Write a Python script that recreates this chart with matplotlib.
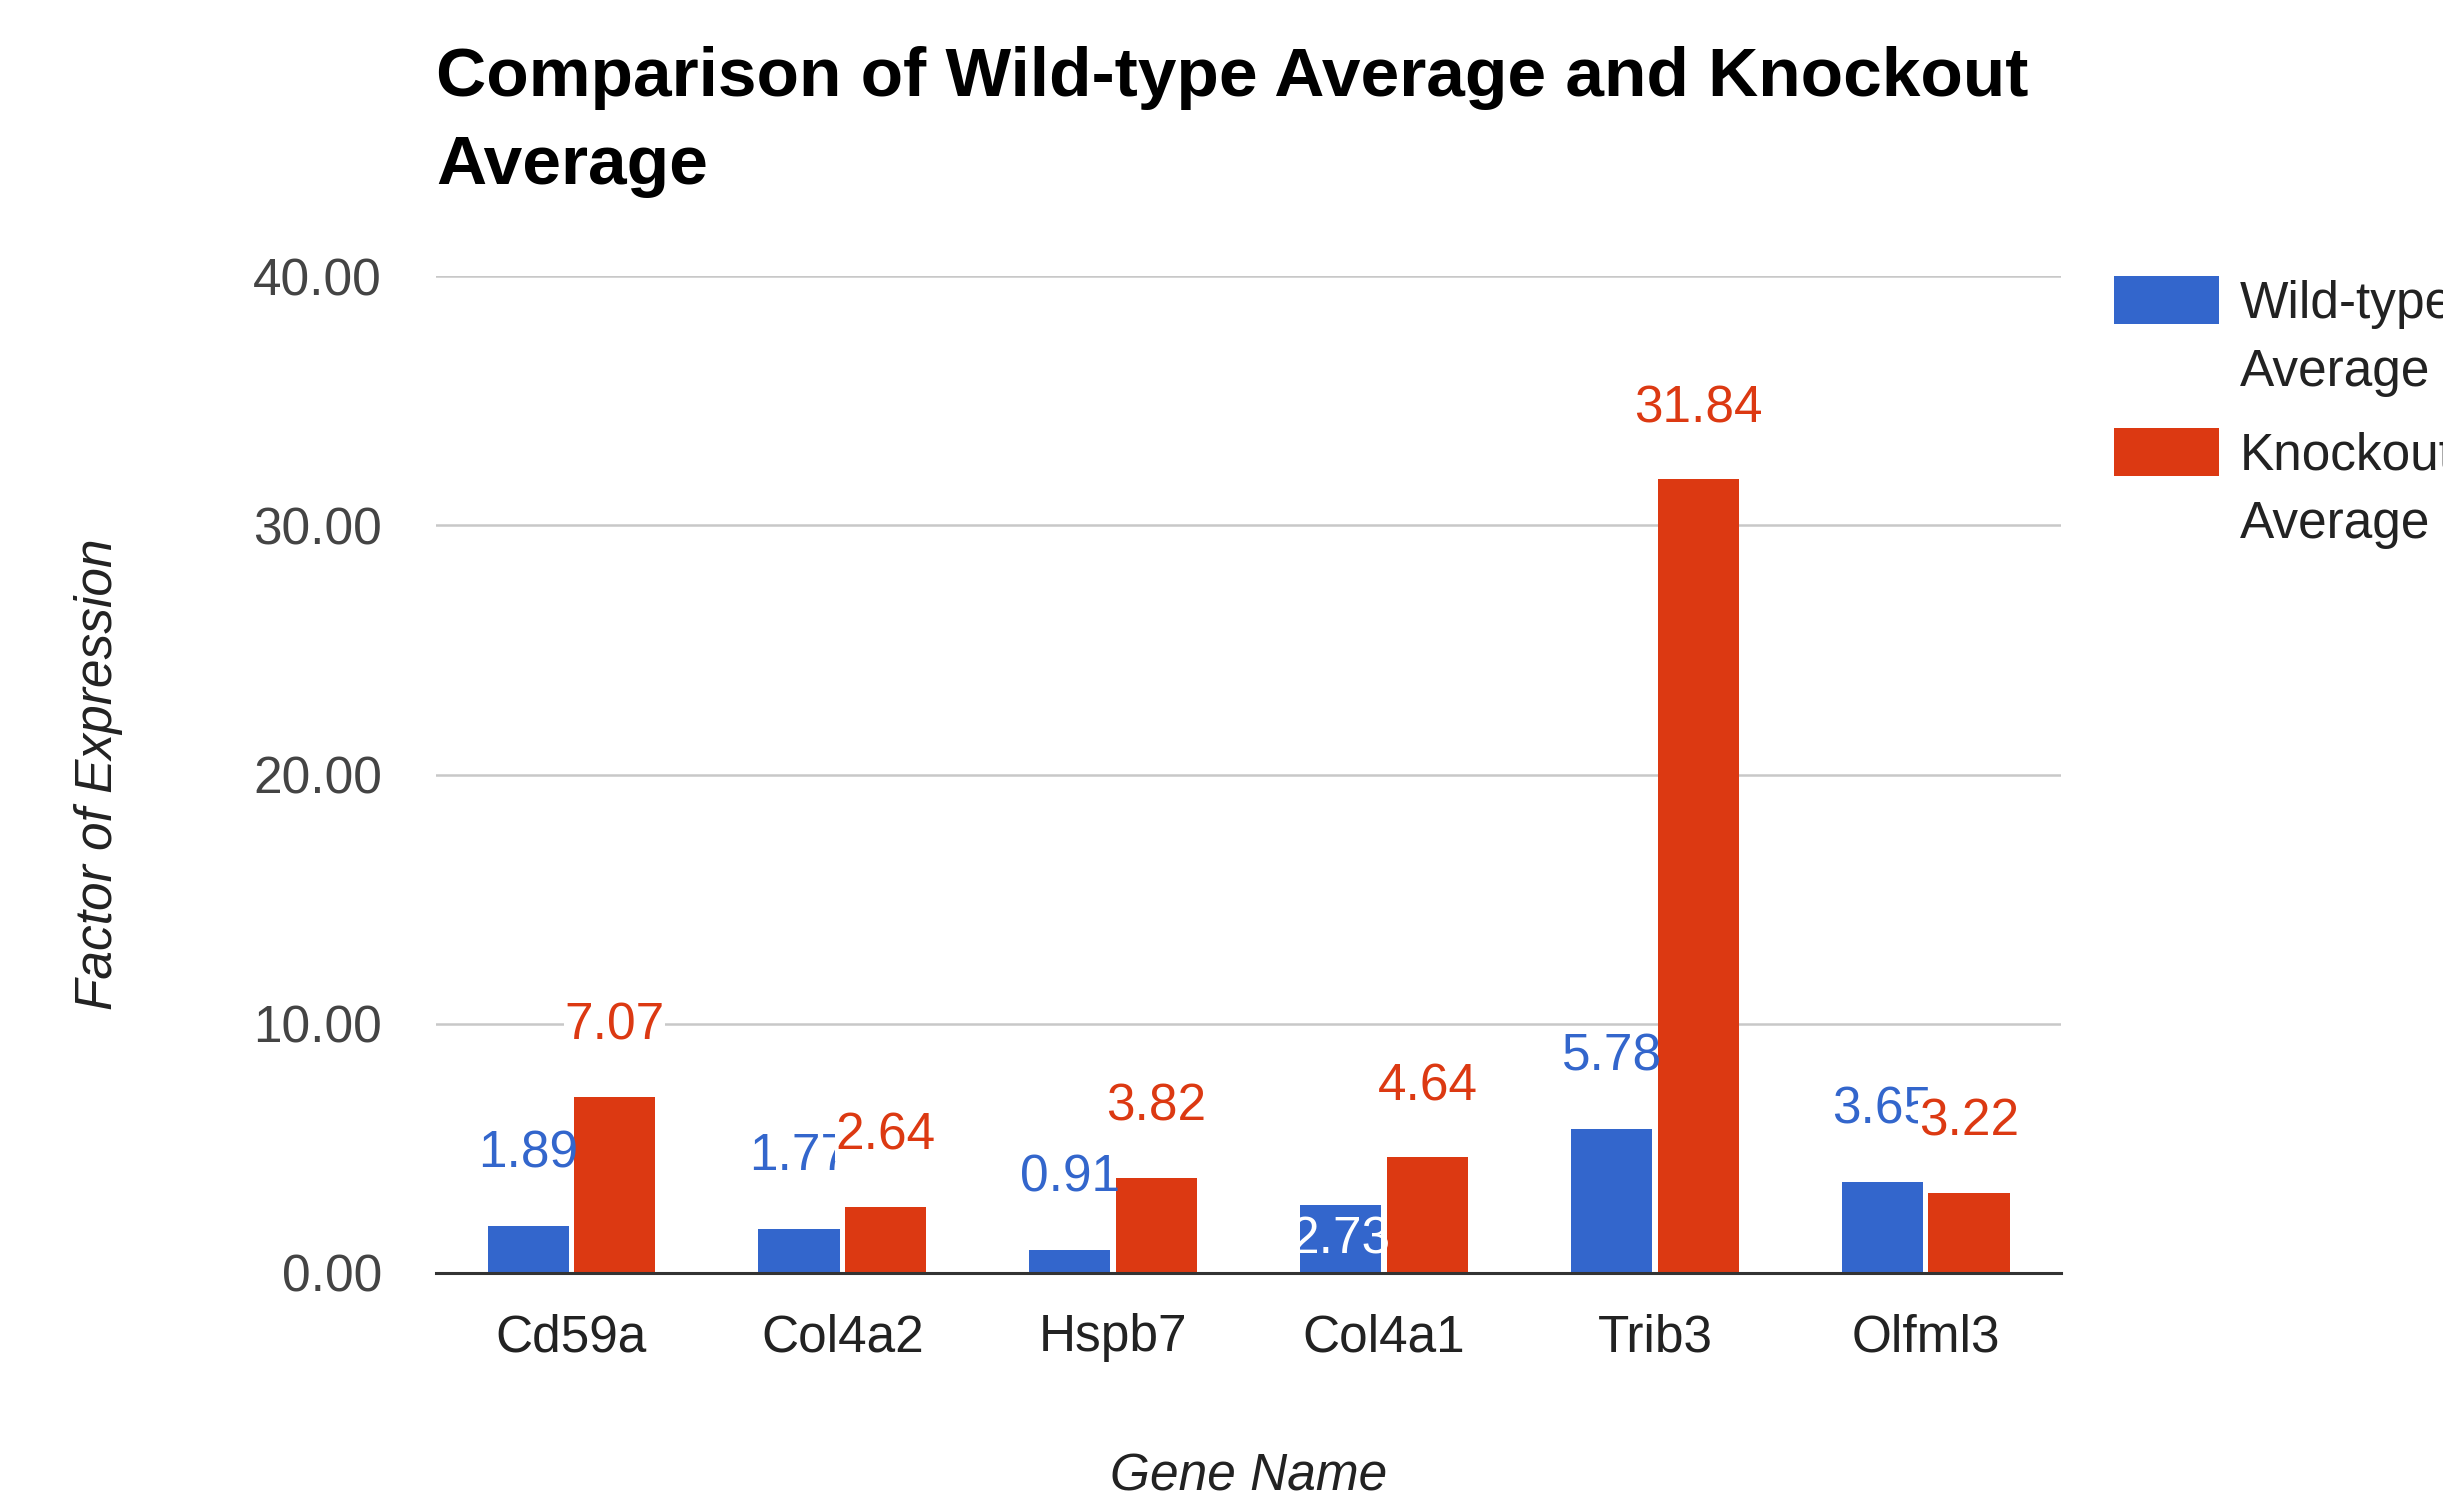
import numpy as np
import matplotlib
matplotlib.use("Agg")
import matplotlib.pyplot as plt
from matplotlib.patches import Rectangle

plt.rcParams["font.family"] = ["Liberation Sans", "DejaVu Sans"]

GENES = ["Cd59a", "Col4a2", "Hspb7", "Col4a1", "Trib3", "Olfml3"]
WILD = [1.89, 1.77, 0.91, 2.73, 5.78, 3.65]
KNOCK = [7.07, 2.64, 3.82, 4.64, 31.84, 3.22]
SERIES = ["Wild-type\nAverage", "Knockout\nAverage"]
YTICKS = [0, 10, 20, 30, 40]

BLUE, RED = "#3366cc", "#dc3912"
FS = 37

fig = plt.figure(figsize=(24.43, 15.01), dpi=100)
ax = fig.add_axes([0.1785, 0.1519, 0.6652, 0.6642])

x = np.arange(len(GENES))
w = 0.3
ax.bar(x - 0.16, WILD, w, color=BLUE, zorder=3)
ax.bar(x + 0.16, KNOCK, w, color=RED, zorder=3)

ax.set_xlim(-0.5, len(GENES) - 0.5)
ax.set_ylim(0, 40)
ax.set_yticks(YTICKS)
ax.set_yticklabels([f"{v:.2f}" for v in YTICKS], color="#444444")
ax.set_xticks(x)
ax.set_xticklabels(GENES, color="#222222")
ax.tick_params(axis="both", length=0, labelsize=FS)
ax.tick_params(axis="y", pad=39)
ax.tick_params(axis="x", pad=29)
for s in ["top", "right", "left"]:
    ax.spines[s].set_visible(False)
ax.spines["bottom"].set_color("#333333")
ax.spines["bottom"].set_linewidth(2.2)
ax.spines["bottom"].set_zorder(4)
ax.yaxis.grid(True, color="#c8c8c8", lw=1.8, zorder=0)

# data labels (Col4a1 wild-type sits inside its bar, as in the original)
for i, v in enumerate(WILD):
    if GENES[i] == "Col4a1":
        ax.annotate(f"{v:.2f}", (x[i] - 0.16, v), xytext=(0, -25),
                    textcoords="offset points", ha="center", va="center",
                    fontsize=FS, color="white", zorder=5)
    else:
        ax.annotate(f"{v:.2f}", (x[i] - 0.16, v), xytext=(0, 52),
                    textcoords="offset points", ha="center", va="center",
                    fontsize=FS, color=BLUE, zorder=5)
for i, v in enumerate(KNOCK):
    ax.annotate(f"{v:.2f}", (x[i] + 0.16, v), xytext=(0, 51),
                textcoords="offset points", ha="center", va="center",
                fontsize=FS, color=RED, zorder=6,
                bbox=dict(facecolor="white", edgecolor="none", pad=0.5))

ax.set_xlabel("Gene Name", fontsize=FS, style="italic", color="#222222", va="center")
ax.xaxis.set_label_coords(0.5, -0.205)
ax.set_ylabel("Factor of Expression", fontsize=FS, style="italic", color="#222222", va="center")
ax.yaxis.set_label_coords(-0.208, 0.5)

ax.set_title("Comparison of Wild-type Average and Knockout\nAverage", loc="left",
             fontsize=50, fontweight="bold", linespacing=1.48, pad=66)

# legend, boxes aligned with first line of each label
for k, (lab, col) in enumerate(zip(SERIES, [BLUE, RED])):
    top = 276 + k * 152
    fig.patches.append(Rectangle((2114 / 2443, 1 - (top + 48) / 1501), 105 / 2443, 48 / 1501,
                                 transform=fig.transFigure, facecolor=col, edgecolor="none"))
    fig.text(2240 / 2443, 1 - (top + 4) / 1501, lab, fontsize=FS, color="#222222",
             va="top", ha="left", linespacing=1.5)

fig.savefig("out.png", dpi=100)
